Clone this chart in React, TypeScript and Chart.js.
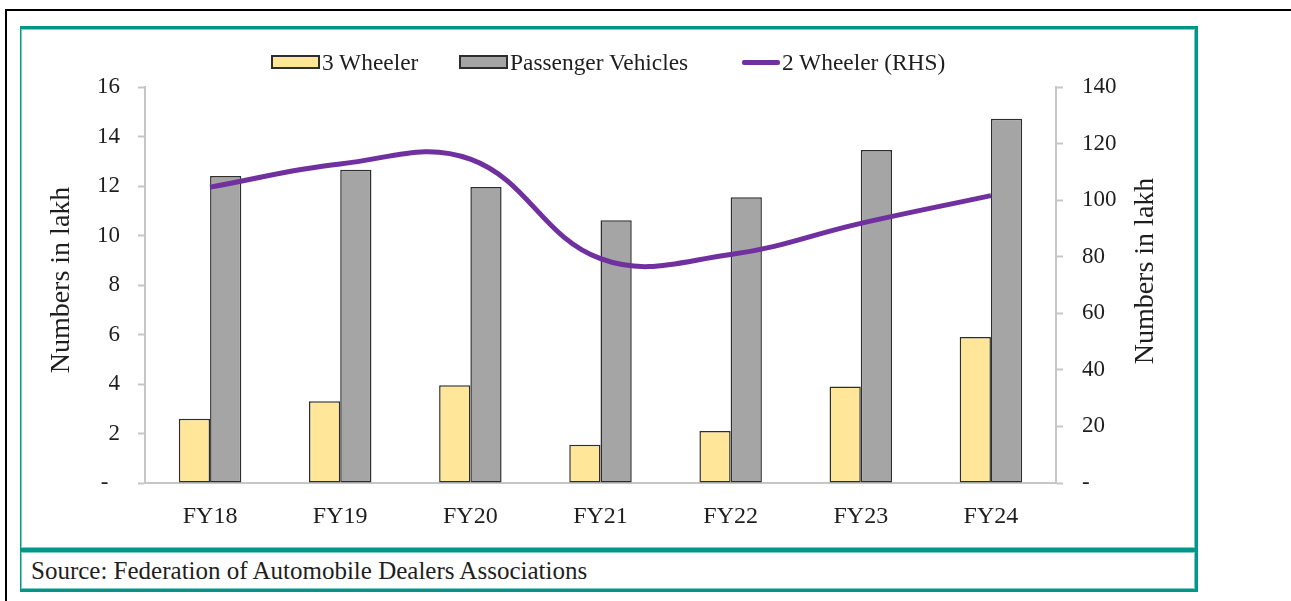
import React, { useEffect, useRef } from 'react';
import { Chart, registerables } from 'chart.js';

Chart.register(...registerables);

const categories = ['FY18', 'FY19', 'FY20', 'FY21', 'FY22', 'FY23', 'FY24'];
const threeWheeler = [2.6, 3.3, 3.95, 1.55, 2.1, 3.9, 5.9];
const passengerVehicles = [12.4, 12.66, 11.96, 10.62, 11.55, 13.45, 14.72];
const twoWheelerRHS = [104.6, 112.8, 114.5, 79.3, 80.8, 91.8, 101.6];

const seriesLabels = ['3 Wheeler', 'Passenger Vehicles', '2 Wheeler (RHS)'];
const leftAxis = { min: 0, max: 16, step: 2 };
const rightAxis = { min: 0, max: 140, step: 20 };
const axisTitle = 'Numbers in lakh';
const sourceText = 'Source: Federation of Automobile Dealers Associations';

const FONT = '"Liberation Serif", "Times New Roman", serif';
const TEXT = '#1e1e1e';
const AXIS = '#c6c6c6';
const TEAL = '#009688';
const TEAL_LIGHT = '#7fcbc3';
const YELLOW = '#ffe699';
const GRAY = '#a5a5a5';
const PURPLE = '#7030a0';
const EDGE = '#2e2e2e';

const axisTitlesPlugin = {
  id: 'axisTitles',
  afterDraw(chart: any) {
    const { ctx, chartArea } = chart;
    const midY = (chartArea.top + chartArea.bottom) / 2;
    ctx.save();
    ctx.font = `28px ${FONT}`;
    ctx.fillStyle = TEXT;
    ctx.textAlign = 'center';
    ctx.textBaseline = 'middle';
    ctx.translate(chartArea.left - 83, midY - 5);
    ctx.rotate(-Math.PI / 2);
    ctx.fillText(axisTitle, 0, 0);
    ctx.restore();
    ctx.save();
    ctx.font = `28px ${FONT}`;
    ctx.fillStyle = TEXT;
    ctx.textAlign = 'center';
    ctx.textBaseline = 'middle';
    ctx.translate(chartArea.right + 90, midY - 14);
    ctx.rotate(-Math.PI / 2);
    ctx.fillText(axisTitle, 0, 0);
    ctx.restore();
  },
};

export default function App() {
  const canvasRef = useRef<HTMLCanvasElement | null>(null);

  useEffect(() => {
    if (!canvasRef.current) return;
    const tickFont = { family: FONT, size: 23 };
    const chart = new Chart(canvasRef.current, {
      type: 'bar',
      data: {
        labels: categories,
        datasets: [
          {
            type: 'line',
            label: seriesLabels[2],
            data: twoWheelerRHS,
            yAxisID: 'y2',
            borderColor: PURPLE,
            backgroundColor: PURPLE,
            borderWidth: 5,
            pointRadius: 0,
            tension: 0.4,
            order: 0,
          } as any,
          {
            type: 'bar',
            label: seriesLabels[0],
            data: threeWheeler,
            yAxisID: 'y',
            backgroundColor: YELLOW,
            borderColor: EDGE,
            borderWidth: 1.5,
            borderSkipped: false,
            categoryPercentage: 0.48,
            barPercentage: 1,
            order: 1,
          },
          {
            type: 'bar',
            label: seriesLabels[1],
            data: passengerVehicles,
            yAxisID: 'y',
            backgroundColor: GRAY,
            borderColor: EDGE,
            borderWidth: 1.5,
            borderSkipped: false,
            categoryPercentage: 0.48,
            barPercentage: 1,
            order: 1,
          },
        ],
      },
      options: {
        responsive: false,
        animation: false,
        devicePixelRatio: 1,
        layout: { padding: { top: 58, left: 0, right: 0, bottom: 0 } },
        plugins: { legend: { display: false }, tooltip: { enabled: false } },
        scales: {
          x: {
            grid: { display: false },
            border: { display: true, color: AXIS, width: 2 },
            ticks: { font: { family: FONT, size: 24 }, color: TEXT, padding: 11 },
            afterFit: (s: any) => {
              s.height = 65;
            },
          },
          y: {
            position: 'left',
            min: leftAxis.min,
            max: leftAxis.max,
            ticks: {
              stepSize: leftAxis.step,
              font: tickFont,
              color: TEXT,
              padding: 18,
              callback: (v: any) => (Number(v) === 0 ? '-  ' : String(v)),
            },
            grid: { drawOnChartArea: false, drawTicks: true, tickLength: 7, tickColor: AXIS, tickWidth: 2 },
            border: { display: true, color: AXIS, width: 2 },
            afterFit: (s: any) => {
              s.width = 123;
            },
          },
          y2: {
            position: 'right',
            min: rightAxis.min,
            max: rightAxis.max,
            ticks: {
              stepSize: rightAxis.step,
              font: tickFont,
              color: TEXT,
              padding: 19,
              callback: (v: any) => (Number(v) === 0 ? '-' : String(v)),
            },
            grid: { drawOnChartArea: false, drawTicks: true, tickLength: 7, tickColor: AXIS, tickWidth: 2 },
            border: { display: true, color: AXIS, width: 2 },
            afterFit: (s: any) => {
              s.width = 137;
            },
          },
        },
      } as any,
      plugins: [axisTitlesPlugin],
    });
    return () => chart.destroy();
  }, []);

  const legendText: React.CSSProperties = {
    fontFamily: FONT,
    fontSize: 23.4,
    color: TEXT,
    marginLeft: 2,
    whiteSpace: 'nowrap',
    lineHeight: '26px',
  };
  const box = (bg: string): React.CSSProperties => ({
    width: 49,
    height: 14,
    boxSizing: 'border-box',
    border: `2px solid ${EDGE}`,
    background: bg,
  });
  const item = (left: number): React.CSSProperties => ({
    position: 'absolute',
    left,
    top: 49,
    height: 26,
    display: 'flex',
    alignItems: 'center',
  });

  return (
    <div style={{ position: 'absolute', left: 0, top: 0, width: 1291, height: 601, overflow: 'hidden', background: '#fff' }}>
      <div
        style={{
          position: 'absolute',
          left: 5,
          top: 9,
          width: 1400,
          height: 700,
          borderLeft: '2px solid #000',
          borderTop: '2px solid #000',
        }}
      />
      <div
        style={{
          position: 'absolute',
          left: 20,
          top: 26,
          width: 1178,
          height: 524,
          boxSizing: 'border-box',
          borderTop: `3px solid ${TEAL}`,
          borderLeft: `1px solid ${TEAL}`,
          borderRight: `3px solid ${TEAL}`,
          borderBottom: `2px solid ${TEAL}`,
          boxShadow: `inset 0 0 0 1px ${TEAL_LIGHT}`,
        }}
      />
      <div
        style={{
          position: 'absolute',
          left: 20,
          top: 550,
          width: 1178,
          height: 42,
          boxSizing: 'border-box',
          borderTop: `2px solid ${TEAL}`,
          borderLeft: `1px solid ${TEAL}`,
          borderRight: `3px solid ${TEAL}`,
          borderBottom: `3px solid ${TEAL}`,
          boxShadow: `inset 0 0 0 1px ${TEAL_LIGHT}`,
        }}
      />
      <div
        style={{
          position: 'absolute',
          left: 31,
          top: 555,
          height: 32,
          lineHeight: '32px',
          fontFamily: FONT,
          fontSize: 25,
          color: TEXT,
          whiteSpace: 'nowrap',
        }}
      >
        {sourceText}
      </div>
      <canvas
        ref={canvasRef}
        width={1171}
        height={519}
        style={{ position: 'absolute', left: 22, top: 29, width: 1171, height: 519 }}
      />
      <div style={item(271)}>
        <span style={box(YELLOW)} />
        <span style={legendText}>{seriesLabels[0]}</span>
      </div>
      <div style={item(459)}>
        <span style={box(GRAY)} />
        <span style={legendText}>{seriesLabels[1]}</span>
      </div>
      <div style={item(742)}>
        <span style={{ width: 38, height: 5, background: PURPLE, borderRadius: 2 }} />
        <span style={legendText}>{seriesLabels[2]}</span>
      </div>
    </div>
  );
}
